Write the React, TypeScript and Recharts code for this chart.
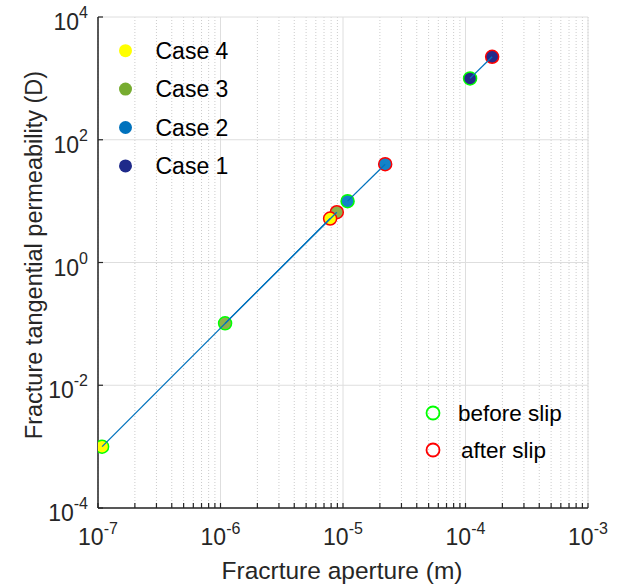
import React from 'react';
import { ScatterChart, Scatter, XAxis, YAxis, CartesianGrid, Label } from 'recharts';

// ---- data ----
const cases = ['Case 4', 'Case 3', 'Case 2', 'Case 1'];
const caseColors = ['#FFFF00', '#77AC30', '#0072BD', '#1f2a8a'];
const markerColors = ['#FFFF00', '#8DB04A', '#1283C8', '#25298a'];
const apertureBefore = [1.08e-7, 1.09e-6, 1.09e-5, 1.09e-4];
const apertureAfter = [7.85e-6, 8.9e-6, 2.21e-5, 1.65e-4];
const permBefore = [1.0e-3, 0.102, 10, 1000];
const permAfter = [5.2, 6.6, 40, 2250];
const stateLabels = ['before slip', 'after slip'];
const stateColors = ['#00FF00', '#FF0000'];

const xMajor = [1e-7, 1e-6, 1e-5, 1e-4, 1e-3];
const xMinor = [
  2e-7, 3e-7, 4e-7, 5e-7, 6e-7, 7e-7, 8e-7, 9e-7,
  2e-6, 3e-6, 4e-6, 5e-6, 6e-6, 7e-6, 8e-6, 9e-6,
  2e-5, 3e-5, 4e-5, 5e-5, 6e-5, 7e-5, 8e-5, 9e-5,
  2e-4, 3e-4, 4e-4, 5e-4, 6e-4, 7e-4, 8e-4, 9e-4,
];
const yMajor = [1e-4, 1e-2, 1, 1e2, 1e4];

const xAll = [...xMajor, ...xMinor].sort((a, b) => a - b);
const xMajorSet = new Set(xMajor);

const FONT = '"Liberation Sans", Arial, Helvetica, sans-serif';
const AX = '#262626';

const XTick = (props: any) => {
  const { x, y, payload } = props;
  if (!xMajorSet.has(payload.value)) return null;
  const exp = Math.round(Math.log10(payload.value));
  return (
    <text x={x} y={y + 32} textAnchor="middle" fontFamily={FONT} fontSize={23} fill={AX}>
      <tspan>10</tspan>
      <tspan dy={-11} fontSize={16}>{exp}</tspan>
    </text>
  );
};

const YTick = (props: any) => {
  const { x, y, payload } = props;
  const exp = Math.round(Math.log10(payload.value));
  return (
    <text x={x} y={y + 13} textAnchor="end" fontFamily={FONT} fontSize={23} fill={AX}>
      <tspan>10</tspan>
      <tspan dy={-12} fontSize={16}>{exp}</tspan>
    </text>
  );
};

const NoTick = () => null;

const makeShape = (fill: string, stroke: string) => (p: any) => (
  <circle cx={p.cx} cy={p.cy} r={6.5} fill={fill} stroke={stroke} strokeWidth={1.5} />
);
const EmptyShape = () => <g />;

export default function App() {
  const order = [3, 2, 1, 0]; // draw Case 1 first, Case 4 on top
  return (
    <div style={{ position: 'absolute', left: 0, top: 0, width: 630, height: 587, background: '#fff' }}>
      <ScatterChart width={630} height={587} margin={{ top: 17, right: 42, bottom: 0, left: 0 }}>
        <XAxis xAxisId="minor" type="number" dataKey="x" scale="log" domain={[1e-7, 1e-3]} ticks={xMinor} interval={0} hide allowDataOverflow />
        <XAxis xAxisId="major" type="number" dataKey="x" scale="log" domain={[1e-7, 1e-3]} ticks={xMajor} interval={0} hide allowDataOverflow />
        <CartesianGrid xAxisId="minor" yAxisId="l" horizontal={false} stroke="#cccccc" strokeDasharray="1 2" />
        <CartesianGrid xAxisId="major" yAxisId="l" stroke="#dedede" />
        <XAxis
          xAxisId="b"
          type="number"
          dataKey="x"
          scale="log"
          domain={[1e-7, 1e-3]}
          ticks={xAll}
          interval={0}
          allowDataOverflow
          height={79}
          tickSize={-5}
          tickMargin={10}
          tick={XTick}
          axisLine={{ stroke: AX, strokeWidth: 1.5 }}
          tickLine={{ stroke: AX, strokeWidth: 1.2 }}
        >
          <Label
            content={() => (
              <text x={342} y={579} textAnchor="middle" fontFamily={FONT} fontSize={24.5} fill={AX}>
                Fracrture aperture (m)
              </text>
            )}
          />
        </XAxis>
        <XAxis
          xAxisId="t"
          orientation="top"
          type="number"
          dataKey="x"
          scale="log"
          domain={[1e-7, 1e-3]}
          ticks={xAll}
          interval={0}
          allowDataOverflow
          height={0}
          tickSize={-5}
          tick={NoTick}
          axisLine={{ stroke: AX, strokeWidth: 1.5 }}
          tickLine={{ stroke: AX, strokeWidth: 1.2 }}
        />
        <YAxis
          yAxisId="l"
          type="number"
          dataKey="y"
          scale="log"
          domain={[1e-4, 1e4]}
          ticks={yMajor}
          interval={0}
          allowDataOverflow
          width={98}
          tickSize={-5}
          tickMargin={15}
          tick={YTick}
          axisLine={{ stroke: AX, strokeWidth: 1.5 }}
          tickLine={{ stroke: AX, strokeWidth: 1.2 }}
        >
          <Label
            content={() => (
              <text
                x={42}
                y={255}
                textAnchor="middle"
                transform="rotate(-90, 42, 255)"
                fontFamily={FONT}
                fontSize={23.5}
                fill={AX}
              >
                Fracture tangential permeability (D)
              </text>
            )}
          />
        </YAxis>
        <YAxis
          yAxisId="r"
          orientation="right"
          type="number"
          dataKey="y"
          scale="log"
          domain={[1e-4, 1e4]}
          ticks={yMajor}
          interval={0}
          allowDataOverflow
          width={0}
          tickSize={-5}
          tick={NoTick}
          axisLine={{ stroke: AX, strokeWidth: 1.5 }}
          tickLine={{ stroke: AX, strokeWidth: 1.2 }}
        />
        {order.map((i) => (
          <Scatter
            key={'b' + i}
            xAxisId="b"
            yAxisId="l"
            data={[{ x: apertureBefore[i], y: permBefore[i] }]}
            shape={makeShape(markerColors[i], stateColors[0])}
            isAnimationActive={false}
          />
        ))}
        {order.map((i) => (
          <Scatter
            key={'a' + i}
            xAxisId="b"
            yAxisId="l"
            data={[{ x: apertureAfter[i], y: permAfter[i] }]}
            shape={makeShape(markerColors[i], stateColors[1])}
            isAnimationActive={false}
          />
        ))}
        {order.map((i) => (
          <Scatter
            key={'l' + i}
            xAxisId="b"
            yAxisId="l"
            data={[
              { x: apertureBefore[i], y: permBefore[i] },
              { x: apertureAfter[i], y: permAfter[i] },
            ]}
            line={{ stroke: '#0072BD', strokeWidth: 1.3 }}
            shape={EmptyShape}
            isAnimationActive={false}
          />
        ))}
      </ScatterChart>
      <svg
        width={630}
        height={587}
        style={{ position: 'absolute', left: 0, top: 0, pointerEvents: 'none' }}
      >
        {cases.map((c, i) => (
          <g key={c}>
            <circle cx={125.5} cy={50.7 + i * 38.4} r={6.5} fill={caseColors[i]} />
            <text x={155.5} y={59 + i * 38.4} fontFamily={FONT} fontSize={23} fill="#000">
              {c}
            </text>
          </g>
        ))}
        {stateLabels.map((s, i) => (
          <g key={s}>
            <circle cx={433} cy={413 + i * 37} r={6.5} fill="none" stroke={stateColors[i]} strokeWidth={1.8} />
            <text x={458 + i * 3} y={421 + i * 37} fontFamily={FONT} fontSize={22.5} fill="#000">
              {s}
            </text>
          </g>
        ))}
      </svg>
    </div>
  );
}
